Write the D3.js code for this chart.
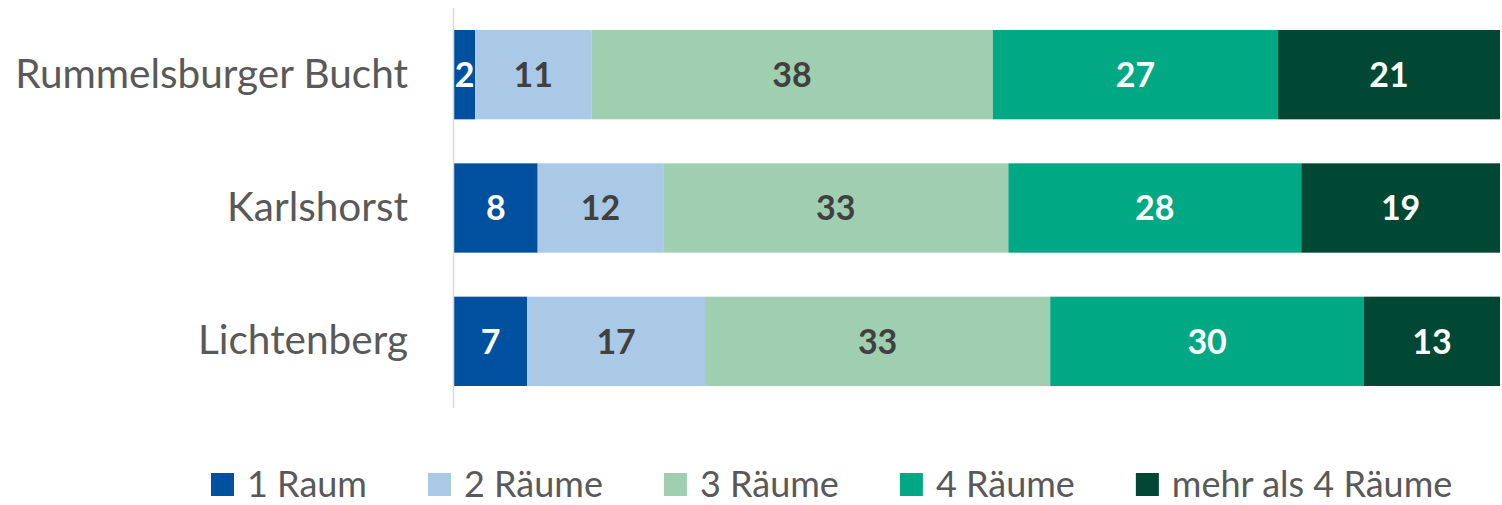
<!DOCTYPE html>
<html>
<head>
<meta charset="utf-8">
<script src="https://cdn.jsdelivr.net/npm/d3@7"></script>
<style>
  body { margin: 0; background: #fff; }
  text { font-family: Lato, "Open Sans", sans-serif; }
</style>
</head>
<body>
<svg id="chart" width="1502" height="505"></svg>
<script>
const districts = ["Rummelsburger Bucht", "Karlshorst", "Lichtenberg"];
const sizes = ["1 Raum", "2 Räume", "3 Räume", "4 Räume", "mehr als 4 Räume"];
const raum1 = [2, 8, 7];
const raum2 = [11, 12, 17];
const raum3 = [38, 33, 33];
const raum4 = [27, 28, 30];
const raum5 = [21, 19, 13];
const colors = ["#0050a0", "#a9c9e7", "#9fcfb0", "#00a984", "#004734"];
const labelColors = ["#fff", "#404040", "#404040", "#fff", "#fff"];

const seriesValues = [raum1, raum2, raum3, raum4, raum5];
const rows = districts.map((name, i) => {
  const row = { name };
  sizes.forEach((s, k) => (row[s] = seriesValues[k][i]));
  return row;
});

const svg = d3.select("#chart");

const x = d3.scaleLinear().domain([0, 1]).range([454, 1500]);
const y = d3
  .scaleBand()
  .domain(districts)
  .range([8, 408])
  .paddingInner(0.33)
  .paddingOuter(0.165);

const stack = d3.stack().keys(sizes).offset(d3.stackOffsetExpand);
const layers = stack(rows);

const layer = svg
  .selectAll(".layer")
  .data(layers)
  .enter()
  .append("g")
  .attr("class", "layer")
  .attr("fill", (d, i) => colors[i]);

layer
  .selectAll("rect")
  .data((d) => d)
  .enter()
  .append("rect")
  .attr("x", (d) => x(d[0]))
  .attr("y", (d) => y(d.data.name))
  .attr("width", (d) => x(d[1]) - x(d[0]))
  .attr("height", y.bandwidth());

// value labels
layers.forEach((l, i) => {
  svg
    .append("g")
    .selectAll("text")
    .data(l)
    .enter()
    .append("text")
    .attr("x", (d) => (x(d[0]) + x(d[1])) / 2)
    .attr("y", (d) => y(d.data.name) + y.bandwidth() / 2)
    .attr("dy", "0.36em")
    .attr("text-anchor", "middle")
    .attr("font-size", 34)
    .attr("font-weight", "bold")
    .attr("fill", labelColors[i])
    .text((d) => d.data[l.key]);
});

// category axis
const yAxis = svg
  .append("g")
  .attr("transform", `translate(${x(0)},0)`)
  .call(d3.axisLeft(y).tickSize(0).tickPadding(46));
yAxis.select(".domain").remove();
yAxis
  .selectAll("text")
  .attr("font-size", 40.5)
  .attr("fill", "#595959")
  .attr("font-family", "Lato, sans-serif");

svg
  .append("line")
  .attr("x1", x(0) - 0.5)
  .attr("x2", x(0) - 0.5)
  .attr("y1", 8)
  .attr("y2", 408)
  .attr("stroke", "#d9d9d9")
  .attr("stroke-width", 1.5);

// legend
const legend = svg.append("g").attr("transform", "translate(211,473)");
let lx = 0;
sizes.forEach((s, i) => {
  const g = legend.append("g").attr("transform", `translate(${lx},0)`);
  g.append("rect").attr("width", 23).attr("height", 23).attr("fill", colors[i]);
  const t = g
    .append("text")
    .attr("x", 36)
    .attr("y", 11.5)
    .attr("dy", "0.34em")
    .attr("font-size", 36)
    .attr("fill", "#595959")
    .text(s);
  lx += 36 + t.node().getComputedTextLength() + 61;
});
</script>
</body>
</html>
